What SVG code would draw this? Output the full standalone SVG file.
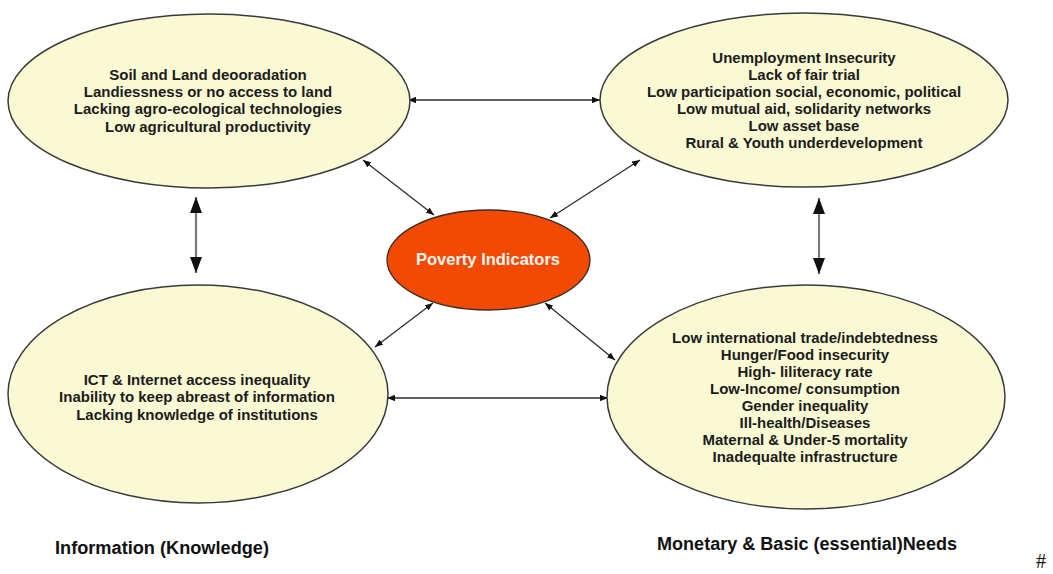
<svg xmlns="http://www.w3.org/2000/svg" width="1053" height="574" viewBox="0 0 1053 574">
<style>
.bubble{fill:#f9f9d3;stroke:#3a3a3a;stroke-width:1.5}
.core{fill:#f24a05;stroke:#3a2a20;stroke-width:1.3}
.t{font-family:"Liberation Sans",Arial,sans-serif;font-weight:bold;font-size:15px;fill:#1c1c1c;text-anchor:middle}
.ct{font-family:"Liberation Sans",Arial,sans-serif;font-weight:bold;font-size:16.5px;fill:#fff4ee;text-anchor:middle}
.lab{font-family:"Liberation Sans",Arial,sans-serif;font-weight:bold;font-size:18px;fill:#111}
.thin{stroke:#2e2e2e;stroke-width:1.3;fill:none}
.thick{stroke:#7a7a7a;stroke-width:2.2;fill:none}
</style>
<defs>
<marker id="ah" viewBox="0 0 10 8" refX="10" refY="4" markerWidth="8" markerHeight="6.5" markerUnits="userSpaceOnUse" orient="auto-start-reverse">
<path d="M0,0 L10,4 L0,8 z" fill="#111"/>
</marker>
<marker id="bh" viewBox="0 0 16 12" refX="16" refY="6" markerWidth="16" markerHeight="13" markerUnits="userSpaceOnUse" orient="auto-start-reverse">
<path d="M0,0 L16,6 L0,12 z" fill="#111"/>
</marker>
</defs>
<rect width="1053" height="574" fill="#ffffff"/>

<g id="connectors">
<line class="thin" x1="408" y1="100" x2="600" y2="100" marker-start="url(#ah)" marker-end="url(#ah)"/>
<line class="thin" x1="387" y1="398" x2="608" y2="398" marker-start="url(#ah)" marker-end="url(#ah)"/>
<line class="thin" x1="363" y1="160" x2="434" y2="215" marker-start="url(#ah)" marker-end="url(#ah)"/>
<line class="thin" x1="640" y1="160" x2="550" y2="218" marker-start="url(#ah)" marker-end="url(#ah)"/>
<line class="thin" x1="433" y1="303" x2="375" y2="347" marker-start="url(#ah)" marker-end="url(#ah)"/>
<line class="thin" x1="545" y1="303" x2="615" y2="360" marker-start="url(#ah)" marker-end="url(#ah)"/>
<line class="thick" x1="196" y1="197" x2="196" y2="273" marker-start="url(#bh)" marker-end="url(#bh)"/>
<line class="thick" x1="819" y1="198" x2="819" y2="274" marker-start="url(#bh)" marker-end="url(#bh)"/>
</g>

<g id="node-land">
<ellipse class="bubble" cx="209" cy="101" rx="201" ry="87"/>
<text class="t" x="208" y="80">Soil and Land deooradation</text>
<text class="t" x="208" y="97">Landiessness or no access to land</text>
<text class="t" x="208" y="114">Lacking agro-ecological technologies</text>
<text class="t" x="208" y="132">Low agricultural productivity</text>
</g>

<g id="node-social">
<ellipse class="bubble" cx="804" cy="100" rx="204" ry="87"/>
<text class="t" x="804" y="63">Unemployment Insecurity</text>
<text class="t" x="804" y="80">Lack of fair trial</text>
<text class="t" x="804" y="97">Low participation social, economic, political</text>
<text class="t" x="804" y="114">Low mutual aid, solidarity networks</text>
<text class="t" x="804" y="131">Low asset base</text>
<text class="t" x="804" y="148">Rural &amp; Youth underdevelopment</text>
</g>

<g id="node-center">
<ellipse class="core" cx="488.5" cy="260" rx="101.5" ry="50"/>
<text class="ct" x="488" y="265">Poverty Indicators</text>
</g>

<g id="node-info">
<ellipse class="bubble" cx="198" cy="394" rx="190" ry="109"/>
<text class="t" x="197" y="385">ICT &amp; Internet access inequality</text>
<text class="t" x="197" y="402">Inability to keep abreast of information</text>
<text class="t" x="197" y="420">Lacking knowledge of institutions</text>
</g>

<g id="node-needs">
<ellipse class="bubble" cx="806" cy="397" rx="199" ry="112"/>
<text class="t" x="805" y="343">Low international trade/indebtedness</text>
<text class="t" x="805" y="360">Hunger/Food insecurity</text>
<text class="t" x="805" y="377">High- liliteracy rate</text>
<text class="t" x="805" y="394">Low-Income/ consumption</text>
<text class="t" x="805" y="411">Gender inequality</text>
<text class="t" x="805" y="428">Ill-health/Diseases</text>
<text class="t" x="805" y="445">Maternal &amp; Under-5 mortality</text>
<text class="t" x="805" y="462">Inadequalte infrastructure</text>
</g>

<g id="labels">
<text class="lab" x="55" y="554" textLength="214" lengthAdjust="spacingAndGlyphs">Information (Knowledge)</text>
<text class="lab" x="657" y="550" textLength="300" lengthAdjust="spacingAndGlyphs">Monetary &amp; Basic (essential)Needs</text>
<text x="1036" y="568" font-family="'Liberation Serif','Times New Roman',serif" font-size="20" fill="#111">#</text>
</g>
</svg>
